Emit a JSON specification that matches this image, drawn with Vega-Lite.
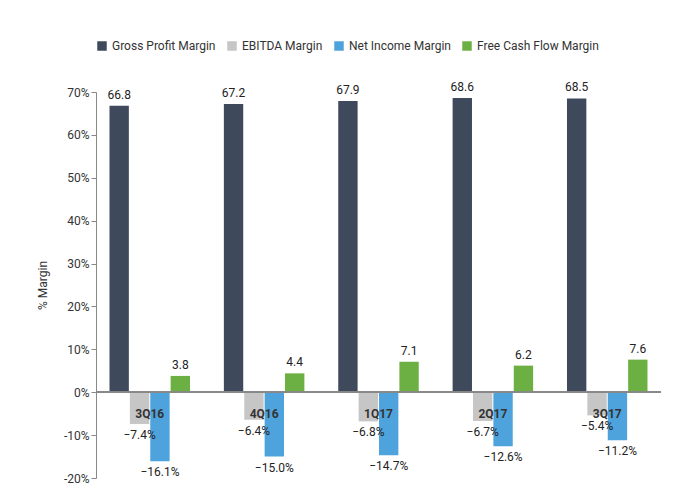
{
  "$schema": "https://vega.github.io/schema/vega-lite/v6.json",
  "width": 565,
  "height": 386,
  "padding": {"left": 36, "top": 40, "right": 10, "bottom": 10},
  "background": "white",
  "config": {"view": {"stroke": null}, "font": "Roboto", "text": {"font": "Roboto"}},
  "data": {
    "values": [
      {"q": "3Q16", "m": "Gross Profit Margin", "v": 66.8},
      {"q": "3Q16", "m": "EBITDA Margin", "v": -7.4},
      {"q": "3Q16", "m": "Net Income Margin", "v": -16.1},
      {"q": "3Q16", "m": "Free Cash Flow Margin", "v": 3.8},
      {"q": "4Q16", "m": "Gross Profit Margin", "v": 67.2},
      {"q": "4Q16", "m": "EBITDA Margin", "v": -6.4},
      {"q": "4Q16", "m": "Net Income Margin", "v": -15.0},
      {"q": "4Q16", "m": "Free Cash Flow Margin", "v": 4.4},
      {"q": "1Q17", "m": "Gross Profit Margin", "v": 67.9},
      {"q": "1Q17", "m": "EBITDA Margin", "v": -6.8},
      {"q": "1Q17", "m": "Net Income Margin", "v": -14.7},
      {"q": "1Q17", "m": "Free Cash Flow Margin", "v": 7.1},
      {"q": "2Q17", "m": "Gross Profit Margin", "v": 68.6},
      {"q": "2Q17", "m": "EBITDA Margin", "v": -6.7},
      {"q": "2Q17", "m": "Net Income Margin", "v": -12.6},
      {"q": "2Q17", "m": "Free Cash Flow Margin", "v": 6.2},
      {"q": "3Q17", "m": "Gross Profit Margin", "v": 68.5},
      {"q": "3Q17", "m": "EBITDA Margin", "v": -5.4},
      {"q": "3Q17", "m": "Net Income Margin", "v": -11.2},
      {"q": "3Q17", "m": "Free Cash Flow Margin", "v": 7.6}
    ]
  },
  "encoding": {
    "x": {"field": "q", "type": "nominal", "sort": null, "axis": null,
          "scale": {"paddingInner": 0.1, "paddingOuter": 0.02}},
    "y": {"field": "v", "type": "quantitative", "title": "% Margin",
          "scale": {"domain": [-20, 70]},
          "axis": {"values": [-20, -10, 0, 10, 20, 30, 40, 50, 60, 70], "labelExpr": "datum.value + '%'",
                   "grid": false, "domainColor": "#888", "tickColor": "#888", "labelColor": "#333",
                   "labelFontSize": 12, "titleFontSize": 12, "titleFontWeight": "normal", "titleColor": "#333", "titlePadding": 14}},
    "xOffset": {"field": "m", "type": "nominal",
                "sort": ["Gross Profit Margin", "EBITDA Margin", "Net Income Margin", "Free Cash Flow Margin"],
                "scale": {"paddingInner": 0.05, "paddingOuter": 0.55}}
  },
  "layer": [
    {
      "mark": {"type": "bar"},
      "encoding": {
        "color": {"field": "m", "type": "nominal",
                  "sort": ["Gross Profit Margin", "EBITDA Margin", "Net Income Margin", "Free Cash Flow Margin"],
                  "scale": {"domain": ["Gross Profit Margin", "EBITDA Margin", "Net Income Margin", "Free Cash Flow Margin"],
                            "range": ["#3e4a5c", "#c6c6c6", "#4fa3dc", "#6cb043"]},
                  "legend": {"orient": "top", "direction": "horizontal", "title": null, "symbolType": "square",
                             "symbolSize": 90, "labelFontSize": 12, "labelColor": "#333", "offset": 40,
                             "columnPadding": 10}}
      }
    },
    {
      "transform": [{"filter": "datum.v >= 0"}],
      "mark": {"type": "text", "fontSize": 12, "color": "#222", "baseline": "bottom", "dy": -4},
      "encoding": {"text": {"field": "v", "type": "quantitative", "format": ".1f", "formatType": "number"}, "y": {"field": "v", "type": "quantitative"}}
    },
    {
      "transform": [{"filter": "datum.v < 0"}, {"calculate": "format(datum.v, '.1f') + '%'", "as": "lab"}],
      "mark": {"type": "text", "fontSize": 12, "color": "#222", "baseline": "top", "dy": 6},
      "encoding": {"text": {"field": "lab"}, "y": {"field": "v", "type": "quantitative"}}
    },
    {
      "mark": {"type": "text", "fontSize": 12, "fontWeight": "bold", "color": "#333", "dy": 22},
      "encoding": {
        "text": {"field": "q"},
        "xOffset": null,
        "y": {"datum": 0}
      },
      "transform": [{"filter": "datum.m == 'Gross Profit Margin'"}]
    },
    {
      "mark": {"type": "rule", "color": "#888"},
      "encoding": {"x": null, "xOffset": null, "y": {"datum": 0}}
    }
  ]
}
